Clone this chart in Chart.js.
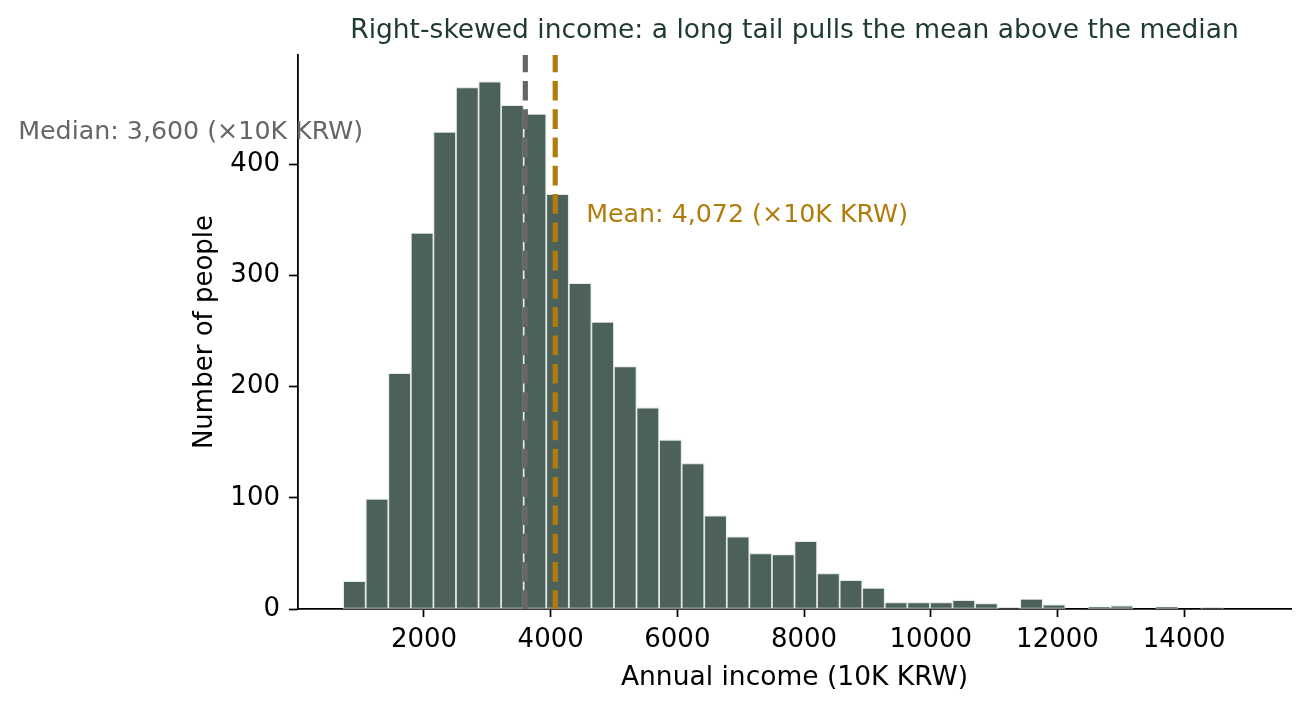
<!DOCTYPE html>
<html><head><meta charset="utf-8">
<script src="https://cdn.jsdelivr.net/npm/chart.js@4"></script>
<style>html,body{margin:0;padding:0;background:#fff;} #wrap{width:1311px;height:710px;position:relative;}</style>
</head><body><div id="wrap"><canvas id="c"></canvas></div>
<script>
// ---- data ----
const BIN_EDGES = [724, 1080, 1437, 1793, 2149, 2505, 2862, 3218, 3574, 3930, 4287, 4643, 4999, 5355, 5712, 6068, 6424, 6780, 7137, 7493, 7849, 8205, 8562, 8918, 9274, 9630, 9987, 10343, 10699, 11055, 11412, 11768, 12124, 12480, 12837, 13193, 13549, 13905, 14262, 14618, 14974];
const COUNTS = [25, 99, 212, 338, 429, 469, 474, 453, 445, 373, 293, 258, 218, 181, 152, 131, 84, 65, 50, 49, 61, 32, 26, 19, 6, 6, 6, 8, 5, 1, 9, 4, 0, 2, 3, 0, 2, 0, 1, 0];
const X_TICKS = [2000, 4000, 6000, 8000, 10000, 12000, 14000];
const Y_TICKS = [0, 100, 200, 300, 400];
const X_RANGE = [11.5, 15686.5];
const Y_RANGE = [0, 498];
const MEDIAN = 3600;
const MEAN = 4072;
const MEDIAN_LABEL = 'Median: 3,600 (×10K KRW)';
const MEAN_LABEL = 'Mean: 4,072 (×10K KRW)';
const MEDIAN_LABEL_AT = [1040, 428];
const MEAN_LABEL_AT = [4560, 354];
const TITLE = 'Right-skewed income: a long tail pulls the mean above the median';
const X_TITLE = 'Annual income (10K KRW)';
const Y_TITLE = 'Number of people';

// ---- styles ----
const FONT = 'DejaVu Sans';
const BAR_COLOR = '#4b615a';
const BAR_EDGE = '#e4e9e7';
const MEDIAN_COLOR = '#666666';
const MEAN_COLOR = '#b07c0c';
const TITLE_COLOR = '#1f3a31';

const points = COUNTS.map((c, i) => ({ x: (BIN_EDGES[i] + BIN_EDGES[i + 1]) / 2, y: c }));

const refLines = {
  id: 'refLines',
  afterDatasetsDraw(chart) {
    const { ctx, chartArea, scales: { x, y } } = chart;
    const vline = (val, color) => {
      const px = x.getPixelForValue(val);
      ctx.save();
      ctx.strokeStyle = color;
      ctx.lineWidth = 5.2;
      ctx.lineCap = 'butt';
      ctx.setLineDash([19.7, 8.6]);
      ctx.lineDashOffset = 2.4;
      ctx.beginPath();
      ctx.moveTo(px, chartArea.top);
      ctx.lineTo(px, chartArea.bottom);
      ctx.stroke();
      ctx.restore();
    };
    vline(MEDIAN, MEDIAN_COLOR);
    vline(MEAN, MEAN_COLOR);
    ctx.save();
    ctx.font = '25.3px "' + FONT + '"';
    ctx.textBaseline = 'middle';
    ctx.fillStyle = MEDIAN_COLOR;
    ctx.textAlign = 'right';
    ctx.fillText(MEDIAN_LABEL, x.getPixelForValue(MEDIAN_LABEL_AT[0]), y.getPixelForValue(MEDIAN_LABEL_AT[1]));
    ctx.fillStyle = MEAN_COLOR;
    ctx.textAlign = 'left';
    ctx.fillText(MEAN_LABEL, x.getPixelForValue(MEAN_LABEL_AT[0]), y.getPixelForValue(MEAN_LABEL_AT[1]));
    ctx.restore();
  }
};

Chart.defaults.font.family = FONT;
Chart.defaults.color = '#000';

new Chart(document.getElementById('c'), {
  type: 'bar',
  data: {
    datasets: [{
      data: points,
      backgroundColor: BAR_COLOR,
      borderColor: BAR_EDGE,
      borderWidth: 1.2,
      borderSkipped: false,
      categoryPercentage: 1,
      barPercentage: 1
    }]
  },
  options: {
    responsive: true,
    maintainAspectRatio: false,
    animation: false,
    devicePixelRatio: 1,
    layout: { padding: { left: 0, right: 20, top: 0, bottom: 0 } },
    plugins: {
      legend: { display: false },
      tooltip: { enabled: false },
      title: {
        display: true,
        text: TITLE,
        color: TITLE_COLOR,
        fullSize: false,
        font: { size: 26.5, weight: 'normal', family: FONT },
        padding: { top: 15.6, bottom: 7.6 }
      }
    },
    scales: {
      x: {
        type: 'linear',
        min: X_RANGE[0],
        max: X_RANGE[1],
        offset: false,
        afterBuildTicks(s) { s.ticks = X_TICKS.map(v => ({ value: v })); },
        afterFit(s) { s.height = 101; },
        grid: { display: true, drawOnChartArea: false, drawTicks: true, tickLength: 8, tickColor: '#000', tickWidth: 1.7, offset: false },
        border: { display: true, color: '#000', width: 1.8 },
        ticks: { font: { size: 26 }, color: '#000', padding: 8, maxRotation: 0, autoSkip: false, callback: v => String(v) },
        title: { display: true, text: X_TITLE, color: '#000', font: { size: 26.5 }, padding: { top: 0, bottom: 16 } }
      },
      y: {
        type: 'linear',
        min: Y_RANGE[0],
        max: Y_RANGE[1],
        afterBuildTicks(s) { s.ticks = Y_TICKS.map(v => ({ value: v })); },
        afterFit(s) { s.width = 298; },
        grid: { display: true, drawOnChartArea: false, drawTicks: true, tickLength: 9, tickColor: '#000', tickWidth: 1.7 },
        border: { display: true, color: '#000', width: 1.8 },
        ticks: { font: { size: 26 }, color: '#000', padding: 9, callback: v => String(v) },
        title: { display: true, text: Y_TITLE, color: '#000', font: { size: 26 }, padding: { top: 190, bottom: 0 } }
      }
    }
  },
  plugins: [refLines]
});
</script>
</body></html>
